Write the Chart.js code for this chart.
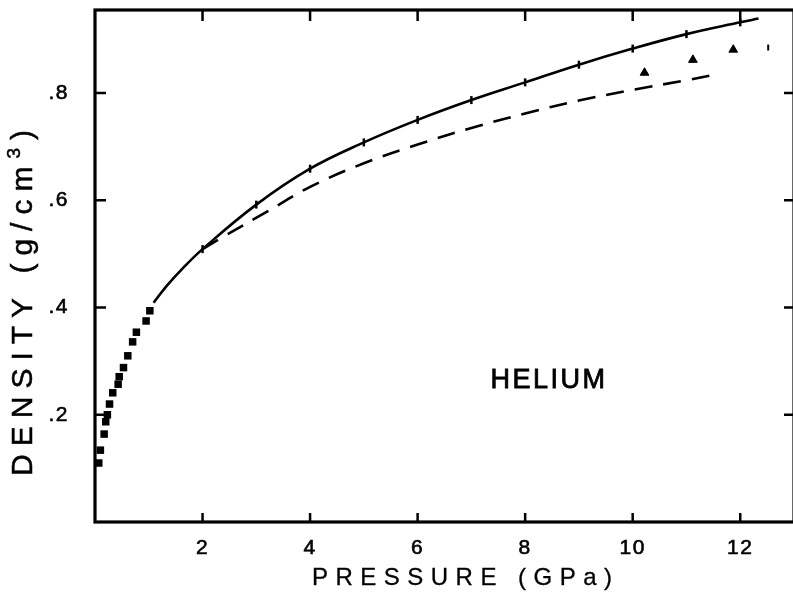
<!DOCTYPE html>
<html>
<head>
<meta charset="utf-8">
<script src="https://cdn.jsdelivr.net/npm/chart.js@4"></script>
<style>
html, body { margin: 0; padding: 0; background: #fff; overflow: hidden; }
#wrap { width: 800px; height: 600px; }
</style>
</head>
<body>
<div id="wrap"><canvas id="chart" width="800" height="600"></canvas></div>
<script>
// low pressure measurements (squares)
var squareP = [1.02, 0.95, 0.77, 0.70, 0.61, 0.53, 0.45, 0.43, 0.33, 0.27, 0.23, 0.20, 0.17, 0.10, 0.07];
var squareD = [0.394, 0.375, 0.354, 0.336, 0.310, 0.288, 0.271, 0.257, 0.241, 0.220, 0.200, 0.187, 0.164, 0.134, 0.110];

// solid curve, marked at every whole GPa
var curveP = [1.09, 1.33, 1.64, 2, 3, 4, 5, 6, 7, 8, 9, 10, 11, 12, 12.34];
var curveD = [0.409, 0.440, 0.474, 0.509, 0.592, 0.659, 0.708, 0.750, 0.787, 0.820, 0.853, 0.883, 0.910, 0.932, 0.939];

// dashed curve
var dashP = [2.0, 2.4, 3.2, 4, 5, 6, 7, 8, 9, 10, 11, 11.57];
var dashD = [0.509, 0.533, 0.579, 0.625, 0.669, 0.704, 0.735, 0.762, 0.786, 0.806, 0.824, 0.835];

// high pressure points (triangles)
var triP = [10.22, 11.12, 11.87];
var triD = [0.838, 0.862, 0.881];
var strayP = [12.52];
var strayD = [0.885];

var xTicks = [2, 4, 6, 8, 10, 12];
var xTickLabels = ['2', '4', '6', '8', '10', '12'];
var yTicks = [0.2, 0.4, 0.6, 0.8];
var yTickLabels = ['.2', '.4', '.6', '.8'];

var xTitle = 'PRESSURE (GPa)';
var yTitle = 'DENSITY (g/cm';
var yTitleSup = '3';
var yTitleEnd = ')';
var gasLabel = 'HELIUM';

var FONT = "'Liberation Sans', Arial, sans-serif";

function pts(xs, ys) {
	return xs.map(function(v, i) { return {x: v, y: ys[i]}; });
}

function noPad(s) {
	s.paddingTop = 0; s.paddingBottom = 0;
	s.paddingLeft = 0; s.paddingRight = 0;
}

// filled text with an optional outline so it reads as heavier print
function inkText(ctx, str, x, y, weight) {
	ctx.fillText(str, x, y);
	if (weight) {
		ctx.lineWidth = weight;
		ctx.strokeText(str, x, y);
	}
}

var frame = {
	id: 'frame',
	beforeDraw: function(chart) {
		chart.ctx.letterSpacing = '1.5px';
	},
	afterDraw: function(chart) {
		var ctx = chart.ctx, a = chart.chartArea, x = chart.scales.x, y = chart.scales.y;
		ctx.save();
		ctx.strokeStyle = '#000';
		ctx.fillStyle = '#000';
		ctx.lineWidth = 3.2;
		ctx.strokeRect(a.left, a.top, a.right - a.left, a.bottom - a.top);

		ctx.lineWidth = 2.5;
		ctx.beginPath();
		xTicks.forEach(function(v) {
			var px = x.getPixelForValue(v);
			ctx.moveTo(px, a.bottom); ctx.lineTo(px, a.bottom - 9);
			ctx.moveTo(px, a.top); ctx.lineTo(px, a.top + 11);
		});
		yTicks.forEach(function(v) {
			var py = y.getPixelForValue(v);
			ctx.moveTo(a.left, py); ctx.lineTo(a.left + 11, py);
			ctx.moveTo(a.right, py); ctx.lineTo(a.right - 10, py);
		});
		ctx.stroke();

		ctx.textBaseline = 'middle';
		ctx.textAlign = 'left';

		// x title
		ctx.font = '24px ' + FONT;
		ctx.letterSpacing = '7.5px';
		var w = ctx.measureText(xTitle).width - 7.5;
		inkText(ctx, xTitle, 462 - w / 2, 578, 0.3);

		// y title, rotated, with superscript
		ctx.save();
		ctx.translate(24, 303);
		ctx.rotate(-Math.PI / 2);
		ctx.letterSpacing = '8px';
		ctx.font = '30px ' + FONT;
		var w1 = ctx.measureText(yTitle).width;
		var w3 = ctx.measureText(yTitleEnd).width - 8;
		ctx.font = '19px ' + FONT;
		var w2 = ctx.measureText(yTitleSup).width;
		var sx = -(w1 + w2 + w3) / 2;
		ctx.font = '30px ' + FONT;
		inkText(ctx, yTitle, sx, 0, 0.5);
		ctx.font = '19px ' + FONT;
		inkText(ctx, yTitleSup, sx + w1, -9, 0.5);
		ctx.font = '30px ' + FONT;
		inkText(ctx, yTitleEnd, sx + w1 + w2, 0, 0.5);
		ctx.restore();

		// gas label
		ctx.font = '27px ' + FONT;
		ctx.letterSpacing = '2.5px';
		var wl = ctx.measureText(gasLabel).width - 2.5;
		inkText(ctx, gasLabel, x.getPixelForValue(8.42) - wl / 2, y.getPixelForValue(0.263), 0.8);
		ctx.restore();
	}
};

new Chart(document.getElementById('chart'), {
	type: 'scatter',
	data: {
		datasets: [{
			label: 'squares',
			data: pts(squareP, squareD),
			pointStyle: 'rect',
			pointRadius: 5.3,
			backgroundColor: '#000',
			borderColor: '#000',
			borderWidth: 0
		}, {
			label: 'solid',
			data: pts(curveP, curveD),
			showLine: true,
			tension: 0.4,
			borderColor: '#000',
			borderWidth: 2.6,
			pointStyle: 'line',
			rotation: 90,
			pointRadius: curveP.map(function(p) { return Number.isInteger(p) ? 4 : 0; }),
			pointBorderWidth: 2.5,
			pointBorderColor: '#000'
		}, {
			label: 'dashed',
			data: pts(dashP, dashD),
			showLine: true,
			tension: 0.4,
			borderColor: '#000',
			borderWidth: 2.6,
			borderDash: [18, 11],
			pointRadius: 0
		}, {
			label: 'triangles',
			data: pts(triP, triD),
			pointStyle: 'triangle',
			pointRadius: 5,
			backgroundColor: '#000',
			borderColor: '#000',
			borderWidth: 1
		}, {
			label: 'stray',
			data: pts(strayP, strayD),
			pointStyle: 'line',
			rotation: 90,
			pointRadius: 3,
			borderColor: '#000',
			borderWidth: 2
		}]
	},
	options: {
		responsive: false,
		animation: false,
		devicePixelRatio: 1,
		layout: { padding: { top: 10, right: 4, left: 0, bottom: 0 } },
		plugins: { legend: { display: false }, tooltip: { enabled: false } },
		scales: {
			x: {
				type: 'linear',
				min: 0,
				max: 13,
				afterBuildTicks: function(s) { s.ticks = xTicks.map(function(v) { return {value: v}; }); },
				afterFit: function(s) { s.height = 78; noPad(s); },
				grid: { display: false, drawTicks: false },
				border: { display: false },
				ticks: {
					autoSkip: false,
					maxRotation: 0,
					padding: 14,
					color: '#000',
					textStrokeColor: '#000',
					textStrokeWidth: 0.6,
					font: { family: FONT, size: 21 },
					callback: function(v, i) { return xTickLabels[i]; }
				}
			},
			y: {
				type: 'linear',
				min: 0,
				max: 0.955,
				afterBuildTicks: function(s) { s.ticks = yTicks.map(function(v) { return {value: v}; }); },
				afterFit: function(s) { s.width = 95; noPad(s); },
				grid: { display: false, drawTicks: false },
				border: { display: false },
				ticks: {
					autoSkip: false,
					padding: 26,
					color: '#000',
					textStrokeColor: '#000',
					textStrokeWidth: 0.6,
					font: { family: FONT, size: 21 },
					callback: function(v, i) { return yTickLabels[i]; }
				}
			}
		}
	},
	plugins: [frame]
});
</script>
</body>
</html>
